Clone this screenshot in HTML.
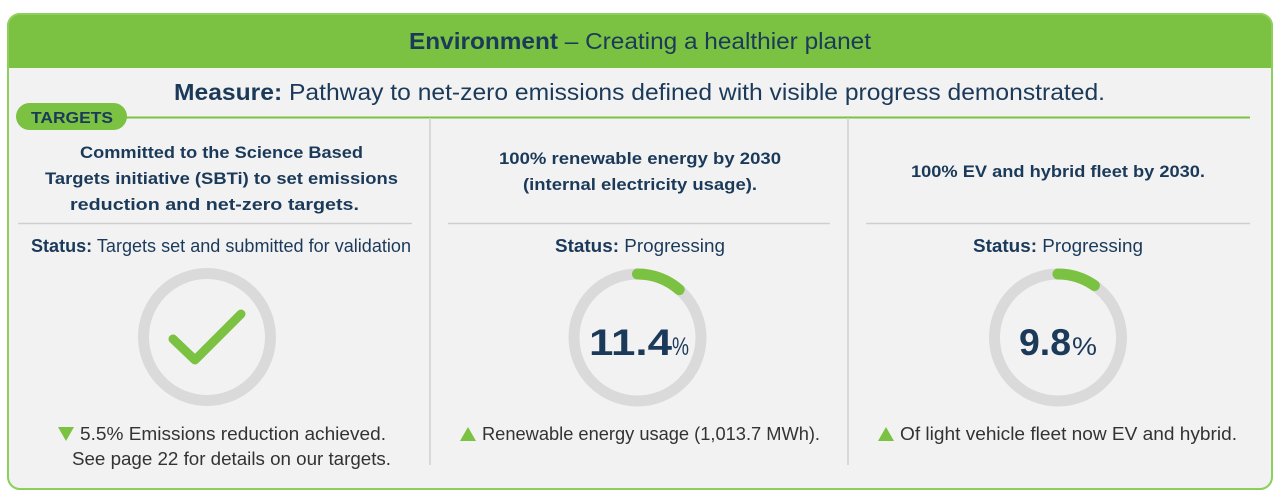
<!DOCTYPE html>
<html><head><meta charset="utf-8"><style>
html,body{margin:0;padding:0;background:#fff;width:1280px;height:502px;overflow:hidden}
svg text{font-family:"Liberation Sans",sans-serif}
</style></head><body>
<svg width="1280" height="502" viewBox="0 0 1280 502" xmlns="http://www.w3.org/2000/svg">
<defs><clipPath id="c"><rect x="7" y="13" width="1266" height="477" rx="13"/></clipPath></defs>
<rect x="7" y="13" width="1266" height="477" rx="13" fill="#f2f2f2"/>
<rect x="7" y="13" width="1266" height="55" fill="#7bc142" clip-path="url(#c)"/>
<rect x="8" y="14" width="1264" height="475" rx="12" fill="none" stroke="#8ccf5c" stroke-width="2"/>
<text x="409" y="49" font-size="23" fill="#1b3a5a" textLength="462" lengthAdjust="spacingAndGlyphs"><tspan font-weight="bold">Environment</tspan> – Creating a healthier planet</text>
<text x="174" y="100" font-size="23" fill="#1b3a5a" textLength="931" lengthAdjust="spacingAndGlyphs"><tspan font-weight="bold">Measure:</tspan> Pathway to net-zero emissions defined with visible progress demonstrated.</text>
<line x1="110" y1="117.5" x2="1250" y2="117.5" stroke="#7bc142" stroke-width="2"/>
<rect x="16" y="103" width="111" height="27" rx="13.5" fill="#7bc142"/>
<text x="31" y="123" font-size="16" font-weight="bold" fill="#1b3a5a" textLength="82" lengthAdjust="spacingAndGlyphs">TARGETS</text>
<line x1="430" y1="118" x2="430" y2="465" stroke="#d8d8d8" stroke-width="2"/>
<line x1="848" y1="118" x2="848" y2="465" stroke="#d8d8d8" stroke-width="2"/>
<line x1="18" y1="223.5" x2="412" y2="223.5" stroke="#cfcfcf" stroke-width="1.5"/>
<line x1="448" y1="223.5" x2="830" y2="223.5" stroke="#cfcfcf" stroke-width="1.5"/>
<line x1="866" y1="223.5" x2="1250" y2="223.5" stroke="#cfcfcf" stroke-width="1.5"/>
<g font-size="17" font-weight="bold" fill="#1b3a5a">
<text x="80" y="158" textLength="283" lengthAdjust="spacingAndGlyphs">Committed to the Science Based</text>
<text x="45" y="184" textLength="353" lengthAdjust="spacingAndGlyphs">Targets  initiative (SBTi) to set emissions</text>
<text x="70" y="210" textLength="289" lengthAdjust="spacingAndGlyphs">reduction and net-zero targets.</text>
<text x="499" y="164" textLength="282" lengthAdjust="spacingAndGlyphs">100% renewable energy by 2030</text>
<text x="523" y="190" textLength="234" lengthAdjust="spacingAndGlyphs">(internal electricity usage).</text>
<text x="911" y="177" textLength="294" lengthAdjust="spacingAndGlyphs">100% EV and hybrid fleet by 2030.</text>
</g>
<g font-size="18" fill="#1b3a5a">
<text x="31" y="252" textLength="380" lengthAdjust="spacingAndGlyphs"><tspan font-weight="bold">Status:</tspan> Targets set and submitted for validation</text>
<text x="555" y="252" textLength="170" lengthAdjust="spacingAndGlyphs"><tspan font-weight="bold">Status:</tspan> Progressing</text>
<text x="973" y="252" textLength="170" lengthAdjust="spacingAndGlyphs"><tspan font-weight="bold">Status:</tspan> Progressing</text>
</g>
<g fill="none" stroke-width="11">
<circle cx="207" cy="337" r="63.5" stroke="#dadada"/>
<circle cx="637.5" cy="337.5" r="63.5" stroke="#dadada"/>
<circle cx="1058" cy="337.5" r="63.5" stroke="#dadada"/>
<path d="M637.5 274 A63.5 63.5 0 0 1 679.2 289.6" stroke="#7bc142" stroke-linecap="round"/>
<path d="M1058 274 A63.5 63.5 0 0 1 1094.4 285.5" stroke="#7bc142" stroke-linecap="round"/>
<path d="M173 339 L195 360 L241 314" stroke="#7bc142" stroke-width="9" stroke-linecap="round" stroke-linejoin="round"/>
</g>
<text x="589" y="355" font-size="37" font-weight="bold" fill="#1b3a5a" textLength="83" lengthAdjust="spacingAndGlyphs">11.4</text>
<text x="672" y="355" font-size="25" fill="#1b3a5a" textLength="17" lengthAdjust="spacingAndGlyphs">%</text>
<text x="1019" y="355" font-size="37" font-weight="bold" fill="#1b3a5a" textLength="52" lengthAdjust="spacingAndGlyphs">9.8</text>
<text x="1072" y="355" font-size="25" fill="#1b3a5a" textLength="25" lengthAdjust="spacingAndGlyphs">%</text>
<g fill="#7bc142">
<polygon points="58,427 74,427 66,441"/>
<polygon points="460,441 476,441 468,427"/>
<polygon points="878,441 894,441 886,427"/>
</g>
<g font-size="18" fill="#333">
<text x="80" y="440" textLength="306" lengthAdjust="spacingAndGlyphs">5.5% Emissions reduction achieved.</text>
<text x="72" y="465" textLength="319" lengthAdjust="spacingAndGlyphs">See page 22 for details on our targets.</text>
<text x="482" y="440" textLength="338" lengthAdjust="spacingAndGlyphs">Renewable energy usage (1,013.7 MWh).</text>
<text x="900" y="440" textLength="337" lengthAdjust="spacingAndGlyphs">Of light vehicle fleet now EV and hybrid.</text>
</g>
</svg>
</body></html>
